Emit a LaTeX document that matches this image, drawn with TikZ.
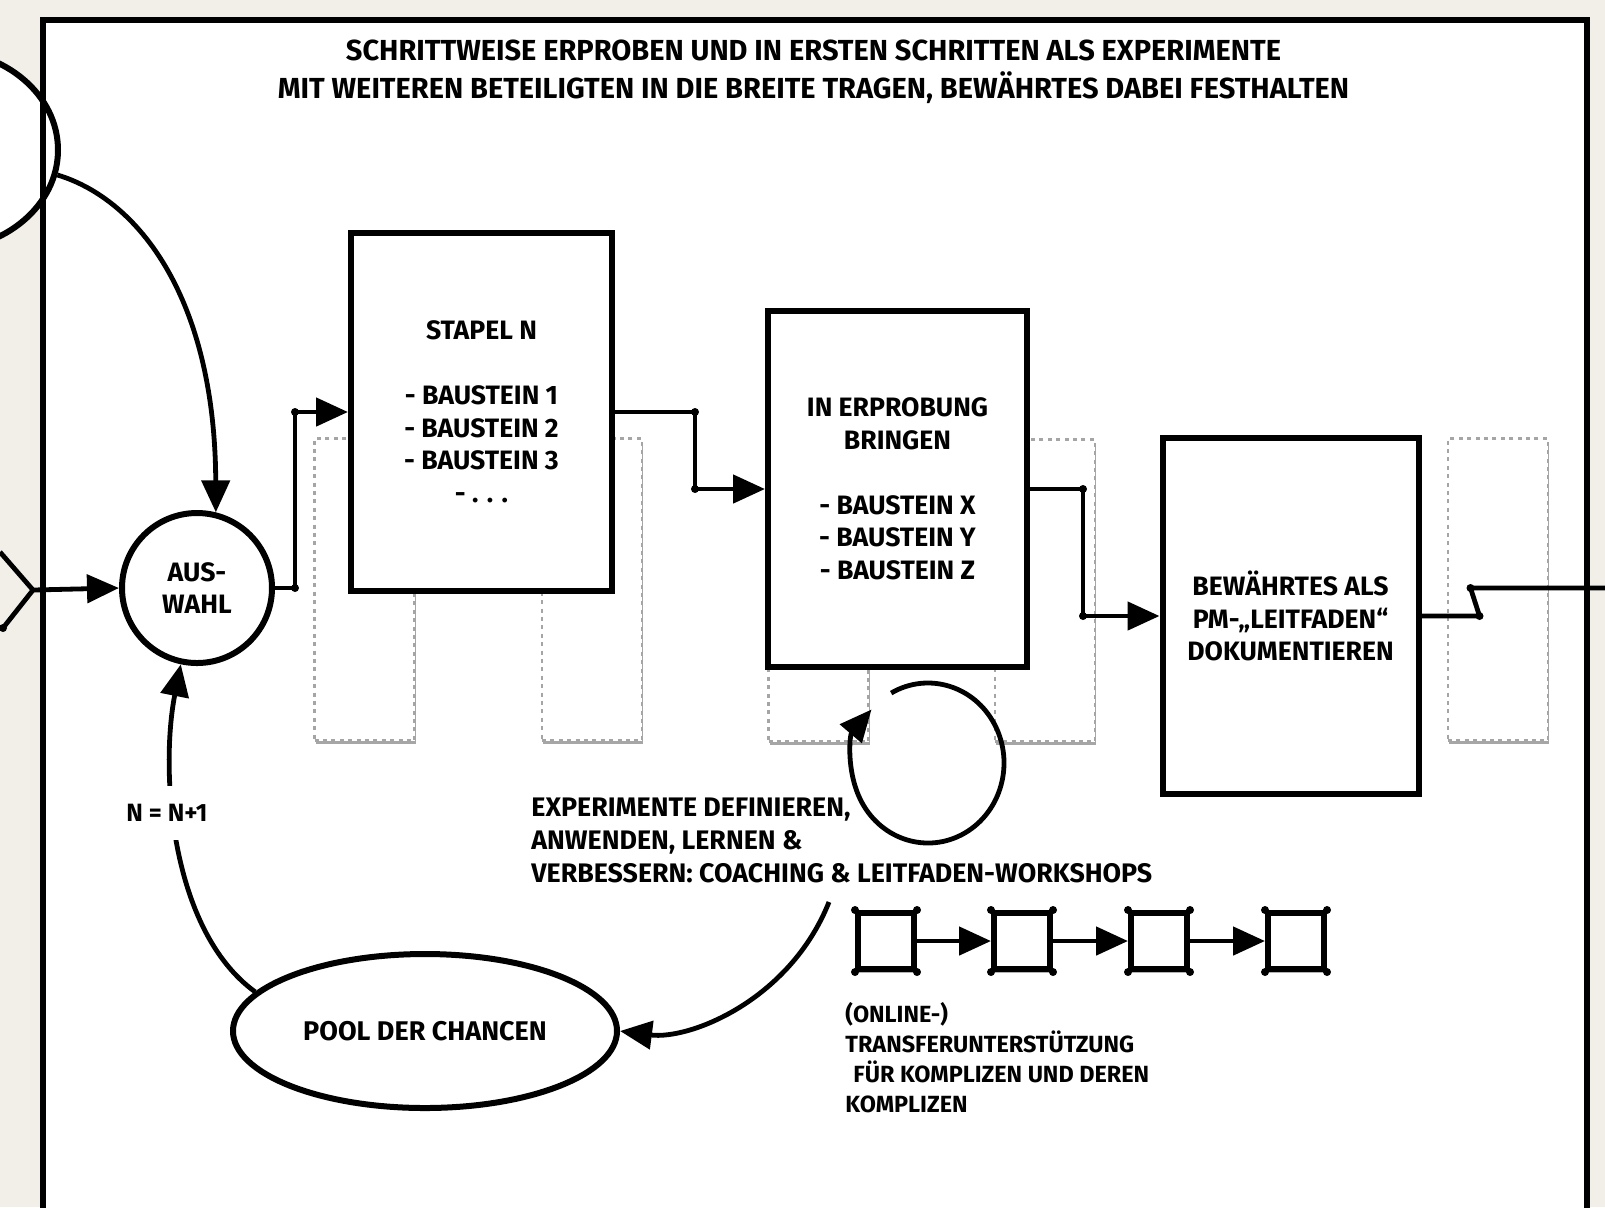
\documentclass[tikz,border=0pt]{standalone}
\usepackage{fontspec}
\setmainfont{Fira Sans}
\usetikzlibrary{arrows.meta,shapes.geometric,shadows,calc}
\definecolor{bgbeige}{RGB}{242,239,232}
\definecolor{dashgray}{RGB}{165,165,165}
\newcommand\fTitle{\fontsize{14.5}{19}\selectfont\bfseries}
\newcommand\fBox{\fontsize{13.3}{16.25}\selectfont\bfseries}
\newcommand\fPool{\fontsize{13.5}{16.25}\selectfont\bfseries}
\newcommand\fLbl{\fontsize{13.4}{16.5}\selectfont\bfseries}
\newcommand\fSmall{\fontsize{11.7}{15}\selectfont\bfseries}
\newcommand\fN{\fontsize{12.5}{15}\selectfont\bfseries}
\tikzset{
  conn/.style={line width=2.4pt, -{Triangle[length=16pt,width=14pt]}},
  plainline/.style={line width=2.4pt},
  bigbox/.style={draw, rectangle, line width=3pt, fill=white, align=center, font=\fBox, inner sep=0pt},
  roundnode/.style={draw, line width=3pt, fill=white, align=center, font=\fBox, inner sep=0pt},
  ghost/.style={draw=dashgray, rectangle, line width=1.3pt, dash pattern=on 2pt off 2.2pt, fill=white,
    drop shadow={shadow xshift=0.5pt, shadow yshift=-1.8pt, opacity=0.35, fill=black},
    minimum width=50pt, minimum height=151pt, inner sep=0pt},
  chainbox/.style={draw, rectangle, line width=3pt, fill=white, minimum size=28pt, inner sep=0pt,
    drop shadow={shadow xshift=0.5pt, shadow yshift=-2pt, opacity=0.3, fill=black}},
  jdot/.style={fill=black}
}
\begin{document}
\begin{tikzpicture}[x=0.5pt,y=-0.5pt]
\useasboundingbox (0,0) rectangle (1605,1207);
\fill[bgbeige] (0,0) rectangle (1605,1207);
\fill[white] (43,20) rectangle (1587,1240);
% cut-off ellipse at the left
\node[ellipse, draw, line width=3pt, fill=white, minimum width=118pt, minimum height=100pt] (leftell) at (-60,150) {};
% frame border
\draw[line width=3pt] (43,1240) -- (43,20) -- (1587,20) -- (1587,1240);

% title
\node[font=\fTitle, align=center, inner sep=0pt] (title) at (813.5,72)
  {SCHRITTWEISE ERPROBEN UND IN ERSTEN SCHRITTEN ALS EXPERIMENTE\\
   MIT WEITEREN BETEILIGTEN IN DIE BREITE TRAGEN, BEWÄHRTES DABEI FESTHALTEN};

% dashed placeholders
\node[ghost] (g1) at (364.5,589.5) {};
\node[ghost] (g2) at (592,589.5) {};
\node[ghost] (g3) at (818.5,590.5) {};
\node[ghost] (g4) at (1045,590.5) {};
\node[ghost] (g5) at (1498,589.5) {};

% main boxes
\node[bigbox, minimum width=130.5pt, minimum height=179pt] (stapel) at (481.5,412)
  {STAPEL N\\[16.25pt]- BAUSTEIN 1\\- BAUSTEIN 2\\- BAUSTEIN 3\\- . . .};
\node[bigbox, minimum width=129.5pt, minimum height=178pt] (erprob) at (897.5,489)
  {IN ERPROBUNG\\BRINGEN\\[16.25pt]- BAUSTEIN X\\- BAUSTEIN Y\\- BAUSTEIN Z};
\node[bigbox, minimum width=128pt, minimum height=178pt] (bewaehrt) at (1290.5,616)
  {BEWÄHRTES ALS\\PM-„LEITFADEN“\\DOKUMENTIEREN};
\node[roundnode, circle, minimum size=75pt] (auswahl) at (197,588) {AUS-\\WAHL};
\node[roundnode, ellipse, font=\fPool, minimum width=192pt, minimum height=77pt] (pool) at (425,1031) {POOL DER CHANCEN};

% chevron at the left edge
\coordinate (chevtop) at (0,552);
\coordinate (chev) at (33,590);
\coordinate (chevbot) at (3,628);
\draw[plainline] (chevtop) -- (chev) -- (chevbot);
\fill[jdot] (chevbot) circle (2pt);
\draw[conn] (chev) -- (auswahl.west);

% auswahl -> stapel
\coordinate (a1) at ($(auswahl.east)+(20,0)$);
\coordinate (a2) at (a1 |- stapel.west);
\draw[conn] (auswahl.east) -- (a1) -- (a2) -- (stapel.west);
\fill[jdot] (a1) circle (2pt) (a2) circle (2pt);

% stapel -> erprob
\coordinate (b1) at ($(stapel.east)+(80,0)$);
\coordinate (b2) at (b1 |- erprob.west);
\draw[conn] (stapel.east) -- (b1) -- (b2) -- (erprob.west);
\fill[jdot] (b1) circle (2pt) (b2) circle (2pt);

% erprob -> bewaehrt
\coordinate (c1) at ($(erprob.east)+(53,0)$);
\coordinate (c2) at (c1 |- bewaehrt.west);
\draw[conn] (erprob.east) -- (c1) -- (c2) -- (bewaehrt.west);
\fill[jdot] (c1) circle (2pt) (c2) circle (2pt);

% exit line
\coordinate (d1) at ($(bewaehrt.east)+(58,0)$);
\coordinate (d2) at ($(d1)+(-9,-28)$);
\coordinate (exitpt) at (1610,588);
\draw[plainline] (bewaehrt.east) -- (d1) -- (d2) -- (d2 -| exitpt);
\fill[jdot] (d1) circle (2pt) (d2) circle (2pt);

% left ellipse -> auswahl
\draw[conn] (leftell.-12) .. controls (140,200) and (215,300) .. (auswahl.76);

% pool -> auswahl with label
\draw[conn] (pool.167) .. controls (170,930) and (160,770) .. (auswahl.258);
\node[fill=white, font=\fN, inner xsep=2pt, inner ysep=9pt] (nlabel) at (167,813) {N = N+1};

% loop under erprob
\coordinate (loopc) at (928,763);
\draw[conn] ($(loopc)+(119:38pt and 40pt)$) arc[start angle=119, end angle=-222, x radius=38pt, y radius=40pt];

% experiment text and curve to pool
\node[font=\fLbl, anchor=west, align=left, inner sep=0pt] (exptext) at (531,840)
  {EXPERIMENTE DEFINIEREN,\\ANWENDEN, LERNEN \&\\VERBESSERN: COACHING \& LEITFADEN-WORKSHOPS};
\coordinate (expstart) at (829,902);
\draw[conn] (expstart) .. controls (790,1000) and (690,1040) .. (pool.east);

% chain of small boxes
\node[chainbox] (cb1) at (886,941) {};
\node[chainbox] (cb2) at (1022,941) {};
\node[chainbox] (cb3) at (1159,941) {};
\node[chainbox] (cb4) at (1296,941) {};
\draw[conn] (cb1.east) -- (cb2.west);
\draw[conn] (cb2.east) -- (cb3.west);
\draw[conn] (cb3.east) -- (cb4.west);
\foreach \n in {cb1,cb2,cb3,cb4}
  \foreach \a in {north west,north east,south west,south east}
    \fill[jdot] (\n.\a) circle (2pt);

\node[font=\fSmall, anchor=west, align=left, inner sep=0pt] (transtext) at (845,1058)
  {(ONLINE-)\\TRANSFERUNTERSTÜTZUNG\\\hspace*{4pt}FÜR KOMPLIZEN UND DEREN\\KOMPLIZEN};
\end{tikzpicture}
\end{document}
